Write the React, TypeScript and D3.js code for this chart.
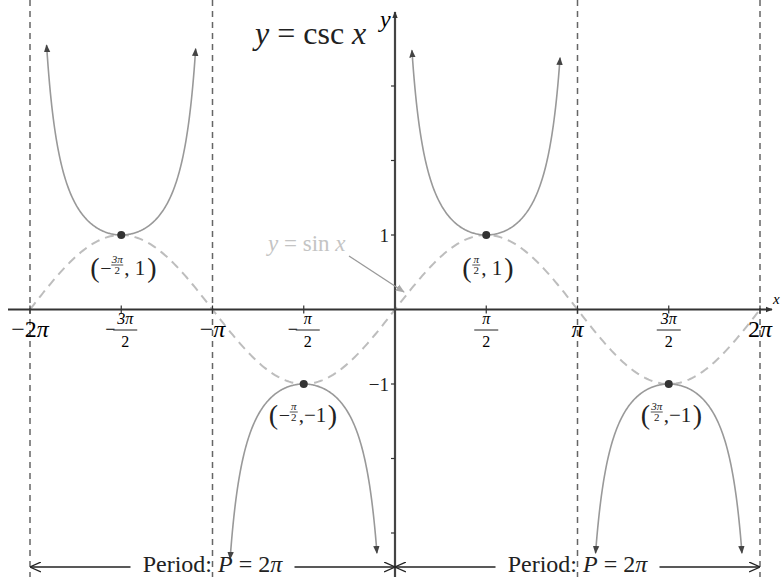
import React from "react";
import * as d3 from "d3";

const PI = Math.PI;
// x ticks in multiples of π
const xTickValues = [-2, -1.5, -1, -0.5, 0.5, 1, 1.5, 2];
const yTickValues = [-3, -2, -1, 1, 2, 3];
const yTickLabels = ["", "", "−1", "1", "", ""];
const asymptotes = [-2, -1, 1, 2];
const keyPointsX = [-1.5, -0.5, 0.5, 1.5];
const keyPointsY = [1, -1, 1, -1];
const branchStart = [-2, -1, 0, 1];
const branchLeftEnd = [3.55, -3.35, 3.48, -3.27];
const branchRightEnd = [3.5, -3.27, 3.38, -3.27];
const periodStarts = [-2, 0];
const periodEnds = [0, 2];

const W = 784, H = 577;
const serif = "'Liberation Serif', 'DejaVu Serif', serif";

export default function App() {
  const x = d3.scaleLinear().domain([-2 * PI, 2 * PI]).range([30, 760]);
  const y = d3.scaleLinear().domain([-1, 1]).range([384, 235]);
  const line = d3.line<[number, number]>().x((d) => x(d[0])).y((d) => y(d[1])).curve(d3.curveLinear);

  const sinPts: [number, number][] = d3.range(0, 401).map((i) => {
    const t = -2 * PI + (4 * PI * i) / 400;
    return [t, Math.sin(t)];
  });

  const branches = branchStart.map((s, i) => {
    const x0 = s * PI + Math.asin(1 / Math.abs(branchLeftEnd[i]));
    const x1 = (s + 1) * PI - Math.asin(1 / Math.abs(branchRightEnd[i]));
    const pts: [number, number][] = d3.range(0, 201).map((k) => {
      const t = x0 + ((x1 - x0) * k) / 200;
      return [t, 1 / Math.sin(t)];
    });
    return pts;
  });

  const y0 = y(0);
  const xAxisY = y0;
  const yAxisX = x(0);

  const Frac = ({ cx, by, num, den, fs }: any) => (
    <g>
      <text x={cx} y={by - fs * 0.35} fontSize={fs} textAnchor="middle" fontFamily={serif}>{num}</text>
      <line x1={cx - fs * 0.75} x2={cx + fs * 0.75} y1={by} y2={by} stroke="#222" strokeWidth={1} />
      <text x={cx} y={by + fs * 1.05} fontSize={fs} textAnchor="middle" fontFamily={serif}>{den}</text>
    </g>
  );

  const piIt = (s: string) => <tspan fontStyle="italic">{s}</tspan>;

  // x tick labels
  const tickLabelY = 337;
  const xLabels = xTickValues.map((v, i) => {
    const cx = x(v * PI);
    if (v === -2) return <text key={i} x={cx} y={tickLabelY} fontSize={24} textAnchor="middle" fontFamily={serif}>−2{piIt("π")}</text>;
    if (v === -1) return <text key={i} x={cx} y={tickLabelY} fontSize={24} textAnchor="middle" fontFamily={serif}>−{piIt("π")}</text>;
    if (v === 1) return <text key={i} x={cx} y={tickLabelY} fontSize={24} textAnchor="middle" fontFamily={serif}>{piIt("π")}</text>;
    if (v === 2) return <text key={i} x={cx} y={tickLabelY} fontSize={24} textAnchor="middle" fontFamily={serif}>2{piIt("π")}</text>;
    const neg = v < 0;
    const num = Math.abs(v) === 1.5 ? "3π" : "π";
    const fcx = cx + (neg ? 4 : 0);
    return (
      <g key={i}>
        {neg && <text x={fcx - 15} y={335} fontSize={18} textAnchor="middle" fontFamily={serif}>−</text>}
        <Frac cx={fcx} by={330} num={<tspan fontStyle="italic">{num}</tspan>} den="2" fs={16} />
      </g>
    );
  });

  // point labels
  const PointLabel = ({ px, py, neg, num, val }: any) => {
    const base = py > 300 ? py + 38 : py + 40;
    const barY = base - 10;
    let cur = px - (neg ? 31 : 24) - (val < 0 ? 4 : 0);
    const items: any[] = [];
    items.push(<text key="lp" x={cur} y={base + 2} fontSize={28} fontFamily={serif}>(</text>);
    cur += 10;
    if (neg) {
      items.push(<text key="m" x={cur} y={base} fontSize={20} fontFamily={serif}>−</text>);
      cur += 11;
    }
    const fw = num.length > 1 ? 12 : 8;
    items.push(
      <g key="f">
        <text x={cur + fw / 2} y={barY - 2} fontSize={11} textAnchor="middle" fontFamily={serif} fontStyle="italic">{num}</text>
        <line x1={cur} x2={cur + fw} y1={barY} y2={barY} stroke="#222" strokeWidth={0.8} />
        <text x={cur + fw / 2} y={barY + 9} fontSize={11} textAnchor="middle" fontFamily={serif}>2</text>
      </g>
    );
    cur += fw + 1;
    const vs = val < 0 ? ",−1" : ", 1";
    items.push(<text key="v" x={cur} y={base} fontSize={21} fontFamily={serif}>{vs}</text>);
    cur += val < 0 ? 29 : 23;
    items.push(<text key="rp" x={cur} y={base + 2} fontSize={28} fontFamily={serif}>)</text>);
    return <g fill="#222">{items}</g>;
  };

  const labelNums = ["3π", "π", "π", "3π"];
  const labelNeg = [true, true, false, false];

  return (
    <svg width={W} height={H} style={{ position: "absolute", left: 0, top: 0, background: "#fff" }}>
      <defs>
        <marker id="ah" viewBox="0 0 10 10" refX="9" refY="5" markerWidth="7" markerHeight="7" orient="auto-start-reverse" markerUnits="userSpaceOnUse">
          <path d="M0,1 L10,5 L0,9 Z" fill="#333" />
        </marker>
        <marker id="ahg" viewBox="0 0 10 10" refX="9" refY="5" markerWidth="9" markerHeight="9" orient="auto-start-reverse" markerUnits="userSpaceOnUse">
          <path d="M0,1 L10,5 L0,9 Z" fill="#aaa" />
        </marker>
        <marker id="ahc" viewBox="0 0 10 10" refX="9" refY="5" markerWidth="8" markerHeight="10" orient="auto-start-reverse" markerUnits="userSpaceOnUse">
          <path d="M0,1 L10,5 L0,9 Z" fill="#444" />
        </marker>
        <marker id="aho" viewBox="0 0 10 10" refX="9" refY="5" markerWidth="11" markerHeight="11" orient="auto-start-reverse" markerUnits="userSpaceOnUse">
          <path d="M0,0.5 L10,5 L0,9.5" fill="none" stroke="#222" strokeWidth={1.2} />
        </marker>
      </defs>

      {/* asymptotes */}
      {asymptotes.map((a, i) => (
        <line key={i} x1={x(a * PI)} x2={x(a * PI)} y1={0} y2={H} stroke="#666" strokeWidth={1.5} strokeDasharray="6,5" />
      ))}

      {/* sine */}
      <path d={line(sinPts) || ""} fill="none" stroke="#bdbdbd" strokeWidth={2} strokeDasharray="9,6" />

      {/* axes */}
      <line x1={8} x2={772} y1={xAxisY} y2={xAxisY} stroke="#333" strokeWidth={2} markerEnd="url(#ah)" />
      <line x1={yAxisX} x2={yAxisX} y1={H} y2={12} stroke="#444" strokeWidth={2.2} markerEnd="url(#ah)" />
      <text x={773} y={304} fontSize={15} fontStyle="italic" fontFamily={serif}>x</text>
      <text x={380} y={27} fontSize={24} fontStyle="italic" fontFamily={serif}>y</text>

      {/* x ticks */}
      {xTickValues.map((v, i) => (
        <line key={i} x1={x(v * PI)} x2={x(v * PI)} y1={xAxisY - 4} y2={xAxisY + 4} stroke="#333" strokeWidth={1.2} />
      ))}
      {xLabels}

      {/* y ticks */}
      {yTickValues.map((v, i) => (
        <g key={i}>
          <line x1={yAxisX - 4} x2={yAxisX} y1={y(v)} y2={y(v)} stroke="#333" strokeWidth={1.2} />
          {yTickLabels[i] && (
            <text x={yAxisX - 6} y={y(v) + 7} fontSize={19} textAnchor="end" fontFamily={serif} fill="#222">{yTickLabels[i]}</text>
          )}
        </g>
      ))}

      {/* csc branches */}
      {branches.map((pts, i) => (
        <path key={i} d={line(pts) || ""} fill="none" stroke="#999" strokeWidth={1.6} markerStart="url(#ahc)" markerEnd="url(#ahc)" />
      ))}

      {/* key points */}
      {keyPointsX.map((v, i) => (
        <circle key={i} cx={x(v * PI)} cy={y(keyPointsY[i])} r={4} fill="#333" />
      ))}
      {keyPointsX.map((v, i) => (
        <PointLabel key={i} px={x(v * PI)} py={y(keyPointsY[i])} neg={labelNeg[i]} num={labelNums[i]} val={keyPointsY[i]} />
      ))}

      {/* title */}
      <text x={255} y={44} fontSize={32} fontFamily={serif} fill="#222">
        <tspan fontStyle="italic">y</tspan> = csc <tspan fontStyle="italic">x</tspan>
      </text>

      {/* sin label */}
      <text x={268} y={251} fontSize={23} fontFamily={serif} fill="#c4c4c4">
        <tspan fontStyle="italic">y</tspan> = sin <tspan fontStyle="italic">x</tspan>
      </text>
      <line x1={349} y1={256} x2={404} y2={292} stroke="#999" strokeWidth={1.3} markerEnd="url(#ahg)" />

      {/* period arrows */}
      {periodStarts.map((s, i) => {
        const xa = x(s * PI), xb = x(periodEnds[i] * PI);
        const mid = (xa + xb) / 2;
        return (
          <g key={i}>
            <line x1={mid - 82} x2={xa + 1} y1={567} y2={567} stroke="#222" strokeWidth={1.3} markerEnd="url(#aho)" />
            <line x1={mid + 82} x2={xb - 1} y1={567} y2={567} stroke="#222" strokeWidth={1.3} markerEnd="url(#aho)" />
            <text x={mid} y={572} fontSize={24} textAnchor="middle" fontFamily={serif} fill="#222">
              Period: <tspan fontStyle="italic">P</tspan> = 2<tspan fontStyle="italic">π</tspan>
            </text>
          </g>
        );
      })}
    </svg>
  );
}
